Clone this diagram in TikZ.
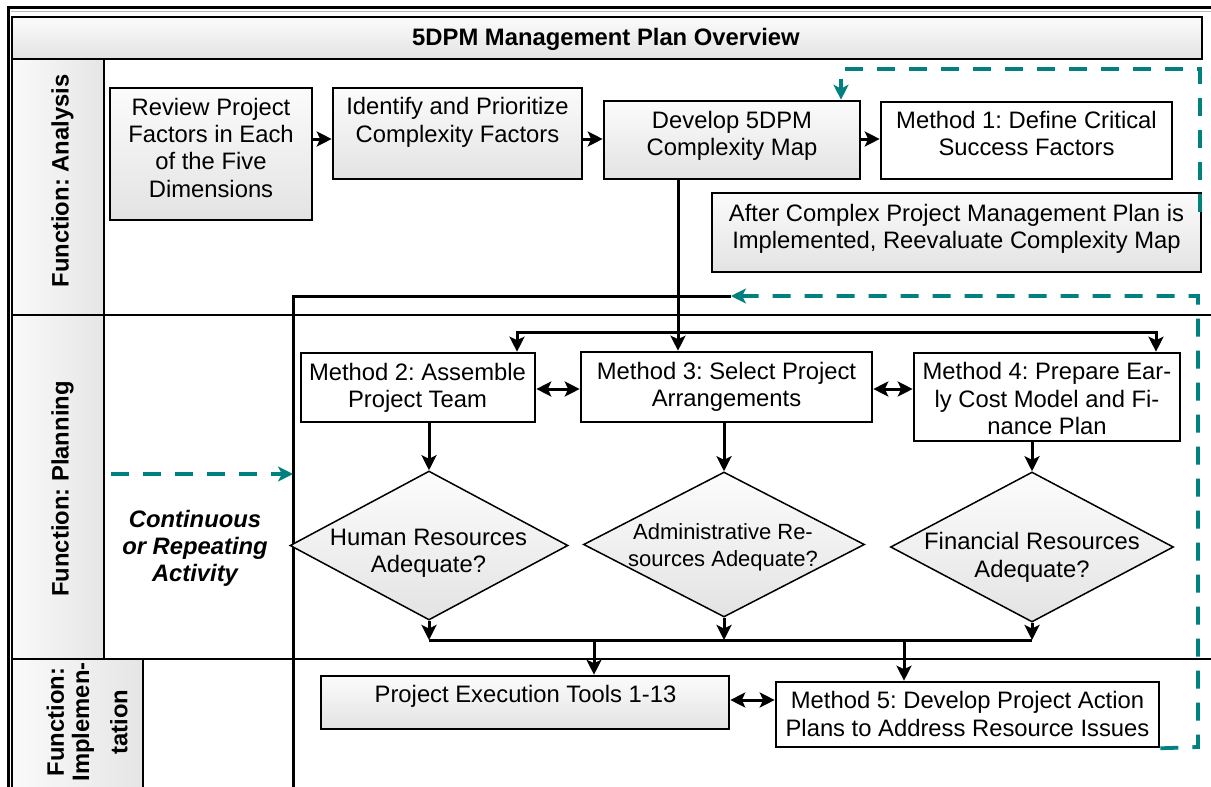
\documentclass[tikz,border=0pt]{standalone}
\usepackage{fontspec}
\setmainfont{Liberation Sans}
\usetikzlibrary{arrows.meta,shapes.geometric}
\definecolor{tealc}{RGB}{0,128,128}
\newcommand\fsz{\fontsize{23.8pt}{27.3pt}\selectfont\frenchspacing}
\begin{document}
\frenchspacing
\begin{tikzpicture}[x=1pt,y=-1pt,font=\fsz,
  box/.style={draw,line width=2.6pt,rectangle,inner sep=0pt},
  gbox/.style={box,top color=gray!3,bottom color=gray!22},
  wbox/.style={box,fill=white},
  txt/.style={inner sep=0pt,align=center,text depth=0pt},
  dia/.style={diamond,draw,line width=1.5pt,inner sep=0pt,top color=gray!2,bottom color=gray!22},
  lane/.style={draw,line width=2.6pt,rectangle,inner sep=0pt,outer sep=0pt,left color=gray!4,right color=gray!20},
  lanetxt/.style={txt,rotate=90,font=\fsz\bfseries},
  ln/.style={line width=3pt},
  frame/.style={line width=2.9pt},
  arr/.style={ln,-{Stealth[length=15pt,width=15pt,inset=3.5pt]}},
  darr/.style={ln,{Stealth[length=15pt,width=15pt,inset=3.5pt]}-{Stealth[length=15pt,width=15pt,inset=3.5pt]}},
  tdash/.style={tealc,line width=3.8pt,dash pattern=on 18pt off 14pt},
  tarr/.style={tdash,-{Stealth[length=15pt,width=15pt,inset=4pt]}}]
\useasboundingbox (0,0) rectangle (1211,787);
\fill[white] (0,0) rectangle (1211,787);
\clip (0,0) rectangle (1211,787);

% outer frame
\draw[frame] (1215,7.3) -- (8.5,7.3) -- (8.5,800);
\draw[gray!55,line width=1.2pt] (10.5,11.5) -- (1215,11.5);

% title
\node[gbox,minimum width=1190pt,minimum height=42pt] (title) at (607,38) {};
\node[txt,font=\fsz\bfseries] (titletext) at (606,37) {5DPM Management Plan Overview};

% lane labels
\node[lane,minimum width=92pt,minimum height=256pt] (la) at (58,187) {};
\node[lane,minimum width=92pt,minimum height=344pt] (lp) at (58,487) {};
\node[lane,minimum width=131pt,minimum height=141pt] (li) at (77.5,729.5) {};
\node[lanetxt] (lat) at (60,181) {Function: Analysis};
\node[lanetxt] (lpt) at (60,489) {Function: Planning};
\node[lanetxt] (lit) at (87,722) {Function:\\[-2pt]Implemen-\\[11pt]tation};

% lane lines
\draw[frame] (12,315) -- (1215,315);
\draw[frame] (12,659) -- (1215,659);

% continuous activity frame
\coordinate (ctl) at (293,296);
\coordinate (cr) at (731,296);
\coordinate (cb) at (293,800);
\draw[ln] (cr) -- (ctl) -- (cb);

% analysis boxes
\node[gbox,minimum width=202pt,minimum height=132pt] (review) at (211,154) {};
\node[txt] (reviewt) at (211,147.5) {Review Project\\Factors in Each\\of the Five\\Dimensions};
\node[gbox,minimum width=249pt,minimum height=91pt] (identify) at (457.5,133.5) {};
\node[txt] (identifyt) at (457.5,120) {Identify and Prioritize\\Complexity Factors};
\node[gbox,minimum width=256pt,minimum height=78pt] (dev) at (732,140) {};
\node[txt] (devt) at (732,133.5) {Develop 5DPM\\Complexity Map};
\node[wbox,minimum width=291pt,minimum height=77pt] (m1) at (1026.5,140.5) {};
\node[txt] (m1t) at (1026.5,133.5) {Method 1: Define Critical\\Success Factors};
\node[gbox,minimum width=489pt,minimum height=79pt] (after) at (956.5,232.5) {};
\node[txt] (aftert) at (956.5,226.5) {After Complex Project Management Plan is\\Implemented, Reevaluate Complexity Map};

% planning boxes
\node[wbox,minimum width=234pt,minimum height=69pt] (m2) at (418,387.5) {};
\node[txt] (m2t) at (417.5,385.5) {Method 2: Assemble\\Project Team};
\node[wbox,minimum width=291pt,minimum height=70pt] (m3) at (726.5,387) {};
\node[txt] (m3t) at (726.5,384.5) {Method 3: Select Project\\Arrangements};
\node[wbox,minimum width=266pt,minimum height=88pt] (m4) at (1047,397) {};
\node[txt] (m4t) at (1047,398.5) {Method 4: Prepare Ear-\\ly Cost Model and Fi-\\nance Plan};

% diamonds
\node[dia,minimum width=278pt,minimum height=149pt] (hr) at (429,545.5) {};
\node[txt] (hrt) at (428.5,550.5) {Human Resources\\Adequate?};
\node[dia,minimum width=281pt,minimum height=145pt] (adm) at (724,544.5) {};
\node[txt,font=\fontsize{22pt}{27.5pt}\selectfont] (admt) at (723,545) {Administrative Re-\\sources Adequate?};
\node[dia,minimum width=283pt,minimum height=150pt] (fin) at (1032,547) {};
\node[txt] (fint) at (1032,555) {Financial Resources\\Adequate?};

% implementation boxes
\node[gbox,minimum width=408pt,minimum height=53pt] (pet) at (525,702.5) {};
\node[txt] (pett) at (525.5,694) {Project Execution Tools 1-13};
\node[wbox,minimum width=383pt,minimum height=65pt] (m5) at (967.5,714.5) {};
\node[txt] (m5t) at (967.5,714) {Method 5: Develop Project Action\\Plans to Address Resource Issues};

% continuous text
\node[txt,font=\fsz\bfseries\itshape] (cont) at (195,546) {Continuous\\or Repeating\\Activity};

% analysis connectors
\coordinate (ay) at (0,139);
\draw[arr] (review.east |- ay) -- (identify.west |- ay);
\draw[arr] (identify.east |- ay) -- (dev.west |- ay);
\draw[arr] (dev.east |- ay) -- (m1.west |- ay);

% develop -> methods
\coordinate (dx) at (678,0);
\draw[arr] (dev.south -| dx) -- (m3.north -| dx);
\coordinate (bl) at (517,332);
\coordinate (br) at (1156,332);
\draw[darr] (bl |- m2.north) -- (bl) -- (br) -- (br |- m4.north);

% method links
\coordinate (dy1) at (0,389);
\draw[darr] (m2.east |- dy1) -- (m3.west |- dy1);
\draw[darr] (m3.east |- dy1) -- (m4.west |- dy1);

% methods -> diamonds
\draw[arr] (m2.south -| hr.north) -- (hr.north);
\draw[arr] (m3.south -| adm.north) -- (adm.north);
\draw[arr] (m4.south -| fin.north) -- (fin.north);

% collector
\coordinate (jy) at (0,640);
\draw[arr] (hr.south) -- (hr.south |- jy);
\draw[arr] (adm.south) -- (adm.south |- jy);
\draw[arr] (fin.south) -- (fin.south |- jy);
\draw[ln] (hr.south |- jy) -- (fin.south |- jy);
\coordinate (j1) at (594,640);
\coordinate (j2) at (904,640);
\draw[arr] (j1) -- (j1 |- pet.north);
\draw[arr] (j2) -- (j2 |- m5.north);
\coordinate (dy2) at (0,700);
\draw[darr] (pet.east |- dy2) -- (m5.west |- dy2);

% teal dashed feedback
\coordinate (tA) at (1200,69);
\coordinate (tB) at (841,69);
\draw[tarr] (tA |- 0,212) -- (tA) -- (tB) -- (tB |- dev.north);
\coordinate (tC) at (1198,747);
\coordinate (tD) at (1198,296);
\draw[tarr] (m5.south east) -- (tC) -- (tD) -- (cr);
\coordinate (tL) at (111,474);
\draw[tarr] (tL) -- (tL -| ctl);
\end{tikzpicture}
\end{document}
